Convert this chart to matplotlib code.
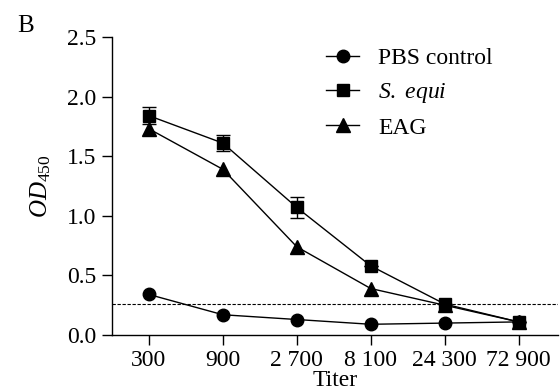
import numpy as np
import matplotlib.pyplot as plt

plt.rcParams['font.family'] = ['Liberation Serif', 'DejaVu Serif']
plt.rcParams['mathtext.fontset'] = 'custom'
plt.rcParams['mathtext.it'] = 'Liberation Serif:italic'
plt.rcParams['mathtext.rm'] = 'Liberation Serif'

# Data
titers = ['300', '900', '2 700', '8 100', '24 300', '72 900']
pbs = [0.34, 0.17, 0.13, 0.09, 0.10, 0.11]
sequi = [1.84, 1.61, 1.07, 0.58, 0.26, 0.11]
sequi_err = [0.07, 0.07, 0.09, 0.0, 0.0, 0.0]
eag = [1.73, 1.39, 0.74, 0.39, 0.25, 0.11]
cutoff = 0.26

x = np.arange(len(titers))

fig = plt.figure(figsize=(5.6, 3.9), dpi=100)
ax = fig.add_axes([0.2, 0.141, 0.796, 0.764])

ax.axhline(cutoff, color='black', linestyle=(0, (3, 1.5)), linewidth=0.8, zorder=1)

ax.errorbar(x, sequi, yerr=sequi_err, fmt='none', ecolor='black', capsize=5,
            elinewidth=1.0, capthick=1.0, zorder=2)
ax.plot(x, pbs, color='black', lw=1.0, marker='o', ms=9, label='PBS control', zorder=3)
ax.plot(x, sequi, color='black', lw=1.0, marker='s', ms=9, label='$S.\\ equi$', zorder=3)
ax.plot(x, eag, color='black', lw=1.0, marker='^', ms=9.5, label='EAG', zorder=3)

ax.set_xlim(-0.5, 5.53)
ax.set_ylim(0, 2.5)
ax.set_xticks(x)
ax.set_xticklabels(titers)
ax.set_yticks([0, 0.5, 1.0, 1.5, 2.0, 2.5])
ax.set_yticklabels(['0.0', '0.5', '1.0', '1.5', '2.0', '2.5'])
ax.tick_params(direction='out', length=7, width=1, labelsize=17, pad=4)

for s in ['top', 'right']:
    ax.spines[s].set_visible(False)
for s in ['left', 'bottom']:
    ax.spines[s].set_linewidth(1.0)

ax.set_xlabel('Titer', fontsize=17, labelpad=-1)
ax.set_ylabel('$OD_{450}$', fontsize=18, labelpad=10)

leg = ax.legend(loc='upper left', bbox_to_anchor=(0.433, 1.035), frameon=False,
                fontsize=17, handlelength=1.4, handletextpad=0.8, labelspacing=0.5)

fig.text(0.03, 0.918, 'B', fontsize=18)

fig.savefig('out.png', dpi=100)
